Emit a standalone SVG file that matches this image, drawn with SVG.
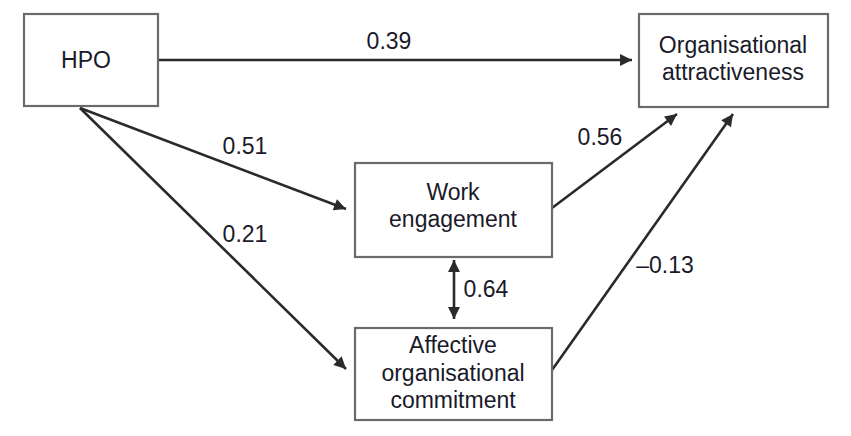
<svg xmlns="http://www.w3.org/2000/svg" width="851" height="436" viewBox="0 0 851 436">
<style>
.box{fill:#fff;stroke:#6a6a6a;stroke-width:2.2}
.t{font-family:"Liberation Sans",Arial,sans-serif;font-size:23px;fill:#1a1a2a;text-anchor:middle}
.l{font-family:"Liberation Sans",Arial,sans-serif;font-size:23px;fill:#1a1a2a;text-anchor:middle}
.c{stroke:#2a2a2a;stroke-width:2.6;fill:none}
</style>
<defs>
<marker id="ah" viewBox="0 0 10 10" refX="10" refY="5" markerWidth="5" markerHeight="4.6" orient="auto-start-reverse" markerUnits="strokeWidth">
<path d="M0,0 L10,5 L0,10 Z" fill="#2a2a2a"/>
</marker>
</defs>
<rect width="851" height="436" fill="#fff"/>
<g id="connectors">
<line class="c" x1="158" y1="60" x2="632" y2="60" marker-end="url(#ah)"/>
<line class="c" x1="80" y1="108" x2="346" y2="209" marker-end="url(#ah)"/>
<line class="c" x1="80" y1="108" x2="346" y2="369" marker-end="url(#ah)"/>
<line class="c" x1="552" y1="208" x2="677" y2="114" marker-end="url(#ah)"/>
<line class="c" x1="552" y1="370" x2="733" y2="114" marker-end="url(#ah)"/>
<line class="c" x1="454" y1="260" x2="454" y2="319" marker-start="url(#ah)" marker-end="url(#ah)"/>
<text class="l" x="389" y="49">0.39</text>
<text class="l" x="245" y="154">0.51</text>
<text class="l" x="245" y="242">0.21</text>
<text class="l" x="600" y="145">0.56</text>
<text class="l" x="665" y="273">–0.13</text>
<text class="l" x="486" y="297">0.64</text>
</g>
<g id="hpo">
<rect class="box" x="24" y="14" width="134" height="92"/>
<text class="t" x="86" y="68">HPO</text>
</g>
<g id="oa">
<rect class="box" x="639" y="14" width="189" height="93"/>
<text class="t" x="733" y="53">Organisational</text>
<text class="t" x="733" y="80">attractiveness</text>
</g>
<g id="we">
<rect class="box" x="355" y="163" width="197" height="94"/>
<text class="t" x="453" y="200">Work</text>
<text class="t" x="453" y="227">engagement</text>
</g>
<g id="aoc">
<rect class="box" x="355" y="328" width="197" height="92"/>
<text class="t" x="453" y="353">Affective</text>
<text class="t" x="453" y="381">organisational</text>
<text class="t" x="453" y="408">commitment</text>
</g>
</svg>
